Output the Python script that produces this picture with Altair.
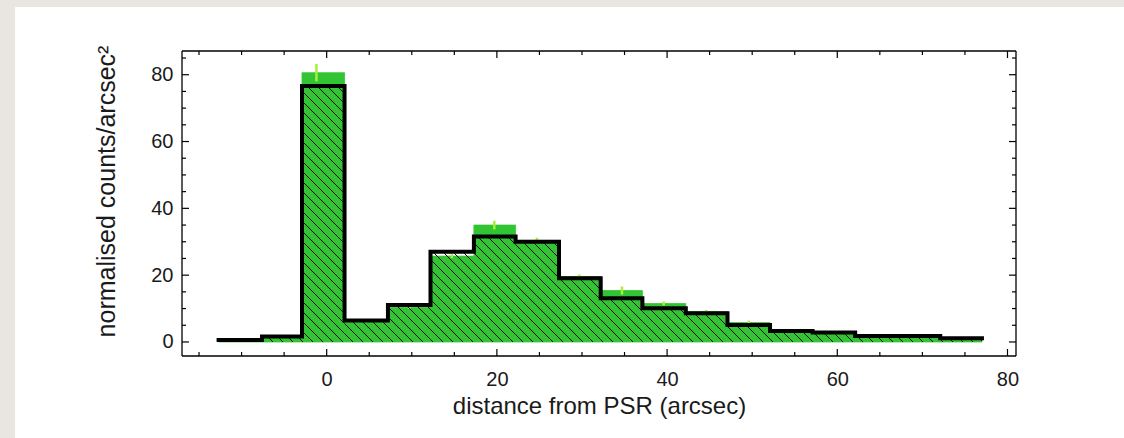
import math
import altair as alt
import pandas as pd

# ---------------- data ----------------
bin_edges = [-12.7, -7.6, -2.9, 2.1, 7.2, 12.2, 17.3, 22.2, 27.3, 32.2,
             37.1, 42.2, 47.1, 52.1, 57.1, 62.1, 72.1, 77.0]
black_counts = [0.6, 1.6, 76.6, 6.4, 11.1, 27.0, 31.6, 30.0, 19.1, 13.1,
                10.1, 8.6, 5.1, 3.3, 2.8, 1.8, 1.1]
green_counts = [0.4, 1.4, 80.6, 6.4, 10.4, 25.7, 35.0, 30.4, 19.6, 15.4,
                11.5, 9.1, 5.8, 3.0, 2.5, 1.5, 0.8]
green_err = [0.2, 0.2, 2.6, 0.5, 0.5, 0.6, 1.3, 0.8, 0.6, 1.2,
             0.6, 0.5, 0.6, 0.3, 0.2, 0.2, 0.2]
err_x = [-10.1, -5.2, -1.2, 4.6, 9.7, 14.7, 19.7, 24.7, 29.7, 34.7,
         39.6, 44.6, 49.6, 54.6, 59.6, 67.1, 74.5]

x_major = [0, 20, 40, 60, 80]
x_minor = [-15, -10, -5, 5, 10, 15, 25, 30, 35, 45, 50, 55, 65, 70, 75]
y_major = [0, 20, 40, 60, 80]
y_minor = [5, 10, 15, 25, 30, 35, 45, 50, 55, 65, 70, 75, 85]

X_DOMAIN = [-17.0, 81.0]
Y_DOMAIN = [-4.2, 87.1]
W, H = 834, 305

GREEN = "#33c433"
ERR = "#a8ee3a"
FONT = "Liberation Sans"
TXT = "#1a1a1a"

# ---------------- tables ----------------
bars = pd.DataFrame({
    "x0": bin_edges[:-1], "x1": bin_edges[1:],
    "g": green_counts, "b": black_counts,
})
errs = pd.DataFrame({
    "xc": err_x,
    "lo": [g - e for g, e in zip(green_counts, green_err)],
    "hi": [g + e for g, e in zip(green_counts, green_err)],
})
step_rows = []
for i, (a, b, h) in enumerate(zip(bin_edges[:-1], bin_edges[1:], black_counts)):
    step_rows.append({"o": 2 * i, "x": a, "y": h})
    step_rows.append({"o": 2 * i + 1, "x": b, "y": h})
steps = pd.DataFrame(step_rows)

# hatch lines (45 deg "\" direction) clipped to the black histogram
kx = W / (X_DOMAIN[1] - X_DOMAIN[0])
ky = H / (Y_DOMAIN[1] - Y_DOMAIN[0])
px = lambda x: (x - X_DOMAIN[0]) * kx
py = lambda y: (Y_DOMAIN[1] - y) * ky
ix = lambda u: u / kx + X_DOMAIN[0]
iy = lambda v: Y_DOMAIN[1] - v / ky
SP = 10.0
hrows = []
for a, b, h in zip(bin_edges[:-1], bin_edges[1:], black_counts):
    ua, ub, vt, vb = px(a), px(b), py(h), py(0)
    for k in range(math.ceil((vt - ub) / SP), math.floor((vb - ua) / SP) + 1):
        c = k * SP
        lo, hi = max(ua, vt - c), min(ub, vb - c)
        if hi > lo:
            hrows.append({"hx": ix(lo), "hy": iy(lo + c), "hx2": ix(hi), "hy2": iy(hi + c)})
hatch = pd.DataFrame(hrows)

# ---------------- chart ----------------
xscale = alt.Scale(domain=X_DOMAIN, nice=False, zero=False)
yscale = alt.Scale(domain=Y_DOMAIN, nice=False, zero=False)
xaxis = alt.Axis(values=x_major, ticks=False, tickSize=0, domain=False, grid=False,
                 labelPadding=13, labelFontSize=20, labelFont=FONT, labelColor=TXT,
                 title="distance from PSR (arcsec)", titleFont=FONT, titleFontSize=24,
                 titleFontWeight="normal", titleColor=TXT, titleY=57,
                 titleBaseline="alphabetic", zindex=2)
yaxis = alt.Axis(values=y_major, ticks=False, tickSize=0, domain=False, grid=False,
                 labelPadding=9, labelFontSize=20, labelFont=FONT, labelColor=TXT,
                 title="normalised counts/arcsec²", titleFont=FONT, titleFontSize=25,
                 titleFontWeight="normal", titleColor=TXT, titleX=-68, titleY=140,
                 titleBaseline="alphabetic", titleAlign="center", titleAngle=270, zindex=2)

def X(f):
    return alt.X(f, type="quantitative", scale=xscale, axis=xaxis)

def Y(f):
    return alt.Y(f, type="quantitative", scale=yscale, axis=yaxis)

one = pd.DataFrame({"k": [0]})

panel = alt.Chart(one).mark_rect(color="white").encode(
    x=alt.value(-167), x2=alt.value(942), y=alt.value(-44), y2=alt.value(387))

green = alt.Chart(bars).mark_rect(color=GREEN, stroke=GREEN, strokeWidth=0.8).encode(
    x=X("x0"), x2="x1", y=Y("g"), y2=alt.datum(0))

errbars = alt.Chart(errs).mark_rule(color=ERR, strokeWidth=2.5).encode(
    x=X("xc"), y=Y("lo"), y2="hi")

hatch_layer = alt.Chart(hatch).mark_rule(color="black", strokeWidth=1).encode(
    x=X("hx"), y=Y("hy"), x2="hx2", y2="hy2")

step_layer = alt.Chart(steps).mark_line(color="black", strokeWidth=4,
                                        strokeJoin="miter", strokeCap="square").encode(
    x=X("x"), y=Y("y"), order="o:Q")

tx_major = pd.DataFrame({"t": x_major})
tx_minor = pd.DataFrame({"t": x_minor})
ty_major = pd.DataFrame({"t": y_major})
ty_minor = pd.DataFrame({"t": y_minor})
tk = dict(color="black", strokeWidth=1.2)

ticks = [
    alt.Chart(tx_major).mark_rule(**tk).encode(x=X("t"), y=alt.value(H), y2=alt.value(H - 7)),
    alt.Chart(tx_major).mark_rule(**tk).encode(x=X("t"), y=alt.value(0), y2=alt.value(7)),
    alt.Chart(tx_minor).mark_rule(**tk).encode(x=X("t"), y=alt.value(H), y2=alt.value(H - 4)),
    alt.Chart(tx_minor).mark_rule(**tk).encode(x=X("t"), y=alt.value(0), y2=alt.value(4)),
    alt.Chart(ty_major).mark_rule(**tk).encode(y=Y("t"), x=alt.value(0), x2=alt.value(7)),
    alt.Chart(ty_major).mark_rule(**tk).encode(y=Y("t"), x=alt.value(W), x2=alt.value(W - 7)),
    alt.Chart(ty_minor).mark_rule(**tk).encode(y=Y("t"), x=alt.value(0), x2=alt.value(4)),
    alt.Chart(ty_minor).mark_rule(**tk).encode(y=Y("t"), x=alt.value(W), x2=alt.value(W - 4)),
]

fr = dict(color="black", strokeWidth=1.3)
frame = [
    alt.Chart(one).mark_rule(**fr).encode(x=alt.value(0), x2=alt.value(W), y=alt.value(0)),
    alt.Chart(one).mark_rule(**fr).encode(x=alt.value(0), x2=alt.value(W), y=alt.value(H)),
    alt.Chart(one).mark_rule(**fr).encode(y=alt.value(0), y2=alt.value(H), x=alt.value(0)),
    alt.Chart(one).mark_rule(**fr).encode(y=alt.value(0), y2=alt.value(H), x=alt.value(W)),
]

chart = alt.layer(panel, green, errbars, hatch_layer, step_layer, *ticks, *frame).properties(
    width=W, height=H,
    autosize=alt.AutoSizeParams(type="none"),
    padding={"left": 182, "top": 51, "right": 108, "bottom": 82},
    background="#e9e6e2",
).configure_view(stroke=None, fill="white")

chart.save("out.html", embed_options={"renderer": "svg", "actions": False})
